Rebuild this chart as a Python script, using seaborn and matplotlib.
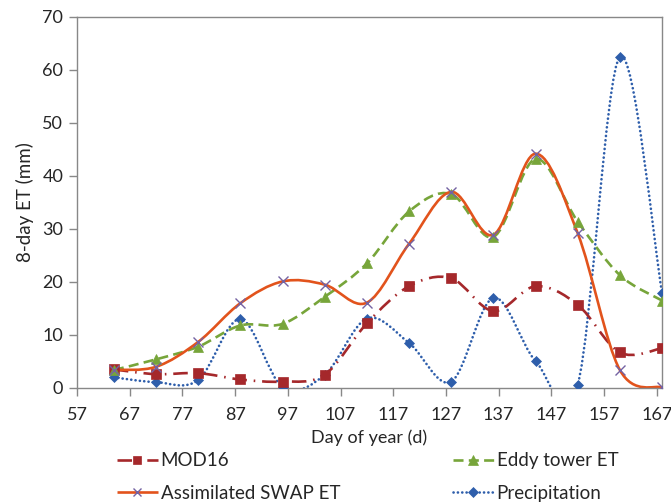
import numpy as np
import pandas as pd
import matplotlib
matplotlib.use("Agg")
import matplotlib.pyplot as plt
import seaborn as sns
from matplotlib.path import Path
from matplotlib.patches import PathPatch
from matplotlib.lines import Line2D

# ---- data ----
days = [64, 72, 80, 88, 96, 104, 112, 120, 128, 136, 144, 152, 160, 168]
mod16 = [3.5, 2.6, 2.8, 1.6, 1.2, 2.5, 12.2, 19.2, 20.7, 14.5, 19.2, 15.7, 6.7, 7.5]
eddy = [3.4, 5.4, 7.8, 11.8, 12.1, 17.2, 23.5, 33.3, 36.6, 28.5, 43.2, 31.4, 21.3, 16.5]
swap = [3.4, 4.0, 8.7, 16.0, 20.1, 19.5, 16.1, 27.2, 37.0, 28.9, 44.2, 29.2, 3.4, 0.1]
precip = [2.0, 1.1, 1.5, 13.0, 0.2, 2.5, 13.1, 8.5, 1.2, 17.0, 5.1, 0.6, 62.5, 18.0]
x_ticks = [57, 67, 77, 87, 97, 107, 117, 127, 137, 147, 157, 167]
y_ticks = [0, 10, 20, 30, 40, 50, 60, 70]

series_names = ["MOD16", "Eddy tower ET", "Assimilated SWAP ET", "Precipitation"]

sns.set_style("white")
plt.rcParams['font.family'] = ['Lato', 'DejaVu Sans']

fig = plt.figure(figsize=(6.71, 5.04), dpi=100)
ax = fig.add_axes([0.1148, 0.2302, 0.8718, 0.7361])

C_RED = "#A5282B"
C_GREEN = "#77A53A"
C_ORANGE = "#E2531C"
C_PURPLE = "#7462A3"
C_BLUE = "#2E5EAB"


def smooth_path(x, y):
    pts = np.column_stack([np.asarray(x, float), np.asarray(y, float)])
    n = len(pts)
    verts = [pts[0]]
    codes = [Path.MOVETO]
    for i in range(n - 1):
        p0 = pts[max(i - 1, 0)]
        p1 = pts[i]
        p2 = pts[i + 1]
        p3 = pts[min(i + 2, n - 1)]
        c1 = p1 + (p2 - p0) / 6.0
        c2 = p2 - (p3 - p1) / 6.0
        verts += [c1, c2, p2]
        codes += [Path.CURVE4] * 3
    return Path(verts, codes)


lw = 1.9
styles = {
    "MOD16": dict(vals=mod16, color=C_RED, ls=(0, (5.5, 2.6, 0.6, 2.6)), cap="butt",
                  marker="s", ms=6.5, mfc=C_RED, mec=C_RED, mew=0.5),
    "Eddy tower ET": dict(vals=eddy, color=C_GREEN, ls=(0, (3.8, 2.0)), cap="butt",
                          marker="^", ms=7.5, mfc=C_GREEN, mec=C_GREEN, mew=0.5),
    "Assimilated SWAP ET": dict(vals=swap, color=C_ORANGE, ls="-", cap="butt",
                                marker="x", ms=7, mfc=C_PURPLE, mec=C_PURPLE, mew=1.0),
    "Precipitation": dict(vals=precip, color=C_BLUE, ls=(0, (0.05, 1.6)), cap="round",
                          marker="D", ms=5.5, mfc=C_BLUE, mec=C_BLUE, mew=0.5),
}

order = ["Precipitation", "MOD16", "Eddy tower ET", "Assimilated SWAP ET"]
for name in order:
    st = styles[name]
    patch = PathPatch(smooth_path(days, st["vals"]), fill=False, edgecolor=st["color"],
                      lw=lw, linestyle=st["ls"], capstyle=st["cap"], zorder=2)
    ax.add_patch(patch)

for name in order:
    st = styles[name]
    df = pd.DataFrame({"day": days, "val": st["vals"]})
    sns.lineplot(data=df, x="day", y="val", ax=ax, linestyle="none", marker=st["marker"],
                 markersize=st["ms"], markerfacecolor=st["mfc"], markeredgecolor=st["mec"],
                 markeredgewidth=st["mew"], color=st["color"], zorder=3, legend=False)

ax.set_xlim(57, 168)
ax.set_ylim(0, 70)
ax.set_xticks(x_ticks)
ax.set_yticks(y_ticks)
ax.set_xlabel("Day of year (d)", fontsize=13, labelpad=4.5)
ax.set_ylabel("8-day ET (mm)", fontsize=13.5, labelpad=6)
ax.tick_params(axis="x", labelsize=13, length=6, width=1, color="#888888",
               direction="out", bottom=True, pad=8)
ax.tick_params(axis="y", labelsize=13, length=6, width=1, color="#888888",
               direction="out", left=True, pad=4)
for sp in ax.spines.values():
    sp.set_color("#888888")
    sp.set_linewidth(1.0)

handles = []
for name in series_names:
    st = styles[name]
    handles.append(Line2D([], [], color=st["color"], lw=lw, linestyle=st["ls"],
                          dash_capstyle=st["cap"], solid_capstyle="butt",
                          marker=st["marker"], markersize=st["ms"] * 0.9,
                          markerfacecolor=st["mfc"], markeredgecolor=st["mec"],
                          markeredgewidth=st["mew"]))
leg_order = [0, 2, 1, 3]
fig.legend([handles[i] for i in leg_order], [series_names[i] for i in leg_order],
           ncol=2, loc="lower left", bbox_to_anchor=(0.157, -0.018), frameon=False,
           fontsize=13.5, handlelength=2.2, handletextpad=0.15, columnspacing=6.0,
           labelspacing=0.82, borderaxespad=0.2)

fig.savefig("out.png", dpi=100)
